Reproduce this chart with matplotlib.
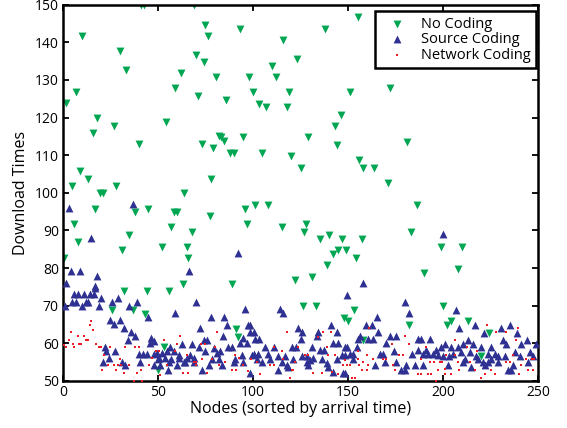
import matplotlib
matplotlib.use("Agg")
import matplotlib.pyplot as plt

# ---------------- data ----------------
no_coding_x = [41, 42.5, 68.8, 74.9, 76.1, 9.8, 29.9, 70, 74, 33, 62, 80.7, 7, 59, 71, 1.8, 18, 54, 27, 15.9,
               82, 39.9, 73.1, 78.9, 8.9, 13, 77.8, 4.9, 28, 19.5, 21, 63.9,
               155, 92.9, 137.9, 116, 123, 110, 98, 112.2, 100.1, 119, 151.2, 85.9, 102.9, 107.1, 118, 146.1,
               143, 83, 85, 95, 129.1, 144, 88, 90.1, 105, 120, 125.1, 155.9, 158,
               172, 181.1, 163.8, 171.1,
               17.1, 38, 45, 58.3, 60, 77.2, 5.9, 57, 68, 34.8, 8, 30.9, 52.1, 65.1, 66, 0.7, 63, 32, 44.1, 56,
               25.9, 37.1, 43, 53, 50,
               95.9, 101.1, 108.1, 97.1, 115, 128.1, 127, 135.1, 140, 147, 157.1, 141.9, 144.9, 149.1, 154,
               139.1, 131.1, 122.1, 88.9, 126.1, 133, 152.9, 148, 150.1, 91, 92,
               186.2, 183, 199.1, 210.1, 190.2, 208, 200.2, 182, 204, 202, 213.1, 224.1, 158, 219.8]
no_coding_y = [150, 150, 150, 144.7, 141.8, 141.8, 137.8, 136.7, 134.8, 132.7, 131.8, 130.8, 126.8, 127.8, 125.8,
               123.9, 119.9, 118.8, 117.8, 115.9, 115, 112.9, 112.9, 111.9, 105.9, 103.8, 103.8, 101.9, 101.9,
               99.9, 99.9, 99.9,
               146.7, 143.6, 143.6, 140.7, 135.6, 133.8, 130.7, 130.7, 126.8, 126.8, 126.8, 124.7, 123.7, 122.7,
               122.7, 120.7, 117.8, 114.8, 113.8, 114.8, 114.8, 112.8, 110.7, 110.7, 110.7, 109.8, 106.7, 108.8,
               106.7,
               127.8, 113.6, 106.7, 102.7,
               95.7, 94.9, 95.7, 94.9, 94.9, 93.9, 91.8, 90.8, 89.7, 88.8, 86.8, 84.8, 85.7, 85.7, 82.6, 82.8,
               75.8, 73.9, 73.9, 73.9, 68.9, 68.9, 67.7, 58.9, 52.9,
               95.7, 96.8, 96.8, 91.8, 90.8, 91.8, 89.7, 87.8, 88.8, 87.8, 87.8, 83.8, 84.8, 84.8, 82.6,
               80.7, 77.7, 76.8, 75.8, 69.8, 69.8, 68.9, 66.8, 65.8, 63.8, 61.8,
               96.8, 89.7, 85.7, 85.7, 78.8, 79.8, 69.8, 64.9, 65.8, 64.9, 65.8, 62.8, 60.9, 56.7]

source_x = [3.1, 36.9, 14.9, 4, 8.9, 18, 66.1, 1.7, 16.8, 92, 158, 200,
            17.1, 5.8, 8, 11, 14.5, 16.3, 4.9, 7, 11.9, 13.3, 1, 10.1, 18.9, 19.8, 25.9, 29, 35, 39, 44.8,
            25, 29.9, 27.1, 32, 36, 37.8, 34.1, 46.5, 46, 22, 22.9, 27.6, 24.1, 21.2, 31.1, 32.9, 39.9, 42,
            44.3, 48.1, 40.8, 47.8, 49.9,
            70, 59.1, 95.9, 78, 85, 86.3, 97.3, 72.3, 84.2, 98.5, 94.7, 74, 75.8, 92.9, 96.8, 62.6, 67.9,
            71.4, 56.5, 47.8, 87.1, 89.2, 79.3, 54.8, 58.3, 74.9, 82.8, 49.5, 52.1, 60.9, 67, 81, 94.1, 99.4,
            50.4, 53.9, 56.9, 60.9, 65.3, 68.8, 78.4, 81.9, 90.6, 55.6, 63.5, 68.8, 89.8, 51.3, 60, 64.4,
            76.6, 83.6, 55.3, 73.1, 95, 98.5,
            114.3, 116, 149.6, 98.5, 100.3, 123.9, 125.6, 134.4, 141, 144, 133.5, 101.1, 103.2, 125.3,
            106.4, 110.8, 120.4, 122.5, 130.9, 142.3, 144.9, 148.4, 135.3, 137.5, 100.3, 102.5, 107.8,
            113.4, 116.9, 125.6, 128.3, 131.8, 146.6, 102, 109, 121.3, 130, 136.1, 144, 104.6, 115.1,
            117.8, 118.6, 128.3, 129.1, 138.8, 139.3, 113, 142.3, 147.2,
            179.9, 182, 165, 159.4, 162.4, 165.9, 156.2, 172, 175.1, 155.4, 160.6, 163.3, 186.9, 188.6,
            193.3, 169.9, 154.5, 149.2, 199.1, 186.9, 191.2, 196.5, 174.1, 151, 152.4, 166.7, 168.5,
            183.4, 189.5, 192.1, 194.7, 197.4, 148.4, 152.8, 175.5, 169.4, 180.7, 185.1, 189.5, 164.1,
            178.1, 179.9, 148.4,
            207, 217, 208.2, 221.4, 230.3, 235, 239, 213.2, 210.5, 215.8, 231.5, 244.3, 249, 240.8,
            233.3, 201.2, 204.4, 207.9, 220.1, 225.4, 205.3, 209.3, 214, 223.6, 227.1, 237.6, 245.5,
            217.5, 240.3, 247.3, 211.4, 218.4, 228.9, 232.4, 225.4, 200, 203, 221, 223.6, 228.9, 210.5,
            202.7, 214.9, 221.9, 236.8, 234.2, 235.5, 244.6]
source_y = [95.9, 97, 88, 79.1, 79.1, 78, 79.1, 76, 75.1, 84, 76, 89,
            74.8, 73, 73, 73, 73, 73, 71, 71, 71, 71, 69.9, 69.9, 69.9, 72, 71.1, 72, 70, 71.1, 67.1,
            66.2, 66.2, 65.1, 64, 62.9, 62, 60.9, 61.3, 60, 59.1, 58, 58, 56.2, 55.1, 55.1, 54.1, 57.1, 57.1,
            57.1, 57.1, 55.1, 54.2, 55.9,
            71.1, 68, 69.1, 66.9, 66.9, 64.9, 64.9, 64, 62, 63.1, 61.3, 60.9, 60.9, 60, 60, 59.7, 59.7,
            59.1, 58.9, 60.6, 58.9, 58.9, 58.7, 58, 58, 58, 58, 57.4, 57.4, 56.9, 56.9, 57.5, 56.9, 56.9,
            56, 56, 55.8, 56, 56, 56, 55.8, 55.8, 55.8, 55.1, 55.1, 55, 55, 54.1, 54.1, 55,
            54.1, 54.1, 52.9, 52.9, 55.1, 52,
            69.1, 68, 72.9, 64.9, 63.1, 64, 63.1, 63.1, 64.9, 63.1, 62, 61.2, 61.2, 61.2,
            59.1, 59.1, 59.1, 59.1, 59.1, 60, 60, 59.1, 58.2, 58.2, 57.1, 57.1, 57.1,
            56.7, 56.7, 56.5, 56.5, 56.2, 56.9, 55.9, 55.9, 55.9, 55.6, 55.9, 55.9, 55, 55,
            54.2, 53.8, 55, 54.1, 54.7, 53.8, 52.9, 52.3, 52,
            71.1, 68, 66.9, 64.9, 64.9, 63.1, 62, 62, 62, 61.2, 61.2, 61.2, 61.2, 61.2,
            61.2, 60, 59.1, 59.1, 59.1, 58.2, 58.2, 58.2, 58, 57.1, 57.1, 57.1, 57.1,
            57.1, 57.1, 57.1, 57.1, 56.9, 56.9, 55.9, 55, 55, 54.2, 54.2, 54.1, 54.1,
            52.9, 52.9, 52,
            68.9, 64.9, 64, 62.8, 64, 64.9, 62.8, 60.9, 59.7, 59.7, 60.9, 60.9, 59.7, 59.7,
            59.7, 59.7, 58.9, 58.9, 58.9, 58.9, 57.1, 57.6, 57.6, 57.1, 57.1, 57.6, 57.6,
            56.7, 56.7, 56.7, 55.9, 55.9, 56.7, 56.7, 55.9, 56.7, 56.7, 55, 55, 55, 55,
            54.1, 53.8, 54.2, 54.1, 52.9, 52.9, 55]

network_x = [14.9, 14.2, 15.9, 4, 8.1, 11, 11.9, 13.3, 3.1, 0.5, 1.4, 5.2, 8.7, 9.6, 5.8, 17.5, 18.9, 19.8,
             25, 32.9, 38.1, 39.9, 21.5, 29.9, 23.8, 26.8, 29.1, 30.8, 35, 20.6, 28, 32, 39.2, 41.3, 45.1,
             46.9, 49, 37.3, 41.6,
             81, 53, 61.8, 60, 72.6, 74.9, 80.1, 50.4, 58.8, 65.3, 73.1, 78.4, 68.8, 70, 54.8, 70.2, 81.9,
             85.4, 95, 88.9, 91.2, 51.3, 63.2, 66, 75.8, 90.6, 92.4,
             117.8, 137, 134.4, 141, 123.9, 138.8, 115.1, 111.3, 99, 116, 127.4, 129.1, 139.6, 143.1, 102,
             122.1, 109, 110.8, 120.4, 121.3, 131.8, 136.1, 141.4, 144.5, 103.8, 119.5, 97.6, 147.5, 148.4,
             161.1, 179.9, 182.1, 172.9, 190.9, 155.4, 159.8, 176.9, 179, 168.5, 170.2, 163.2, 155.4,
             188.6, 158, 193, 195.1, 198.2, 149.2, 151, 155.9, 160.6, 173.7, 174.6, 157.1, 159.8, 197.4,
             186.9, 188.6, 192.1, 193.9, 151.9, 153.6, 196.1,
             223.3, 239.4, 228, 233.3, 206.1, 238.5, 212.8, 201.8, 206.1, 218.1, 236.8, 243.8, 246.7,
             248.1, 199.2, 207.9, 214, 233.3, 235, 240.8, 200.9, 216.6, 225.4, 244.6, 247.3, 200.9, 204,
             221.9, 227.5, 239.7, 220.1, 208.2]
network_y = [66, 64.9, 63.6, 62.9, 62, 62, 60.9, 60.9, 60.9, 59.6, 58.9, 59.8, 59.8, 59.8, 58.9, 59.8, 58.9,
             58.9, 58.9, 58.9, 58.9, 58.9, 56.9, 55.9, 54.1, 54.1, 54.1, 54.1, 54.1, 52.9, 52.9, 52, 52,
             52.9, 54.1, 56, 58, 50, 50,
             63, 60.9, 62, 59.8, 59.8, 59.8, 58.9, 58, 58, 56.9, 55.9, 55.9, 55, 55, 54.1, 54.1, 54.1,
             55, 54.1, 52.9, 52.9, 51.6, 52, 52, 52, 56.9, 56,
             63, 63, 61.8, 63, 59.1, 59.1, 58, 58.9, 55.9, 55.9, 56.9, 56.9, 56.9, 56.9, 55,
             55, 54.1, 54.1, 52.9, 52.9, 52, 52, 52.3, 51.8, 51.8, 50.9, 52.6, 54.2, 55.6,
             64, 62, 59.8, 59.8, 58.9, 58, 56.9, 56.9, 56.9, 55.9, 55.9, 55.9, 55.9,
             55.9, 55, 55, 55, 55, 54.1, 54.1, 54.1, 54.1, 54.1, 52.9, 52.9, 52.9, 52.9,
             51.8, 51.8, 51.8, 51.8, 50.9, 50.9, 50,
             64.9, 64, 63.1, 63.1, 60.9, 60.9, 58.9, 56.9, 56.9, 58, 56.9, 55.9, 55.9,
             55.9, 55, 55, 55, 55, 55, 54.1, 53.2, 52.9, 52.9, 52.9, 52.9, 51.8, 51.8,
             51.8, 51.8, 51.8, 50.9, 52.9]

x_ticks = [0, 50, 100, 150, 200, 250]
y_ticks = [50, 60, 70, 80, 90, 100, 110, 120, 130, 140, 150]
series_labels = ["No Coding", "Source Coding", "Network Coding"]

# ---------------- plot ----------------
plt.rcParams['font.family'] = ['Open Sans', 'DejaVu Sans']

fig = plt.figure(figsize=(5.67, 4.28), dpi=100)
ax = fig.add_axes([0.111, 0.110, 0.838, 0.879])

green = '#00a651'
blue = '#2e3192'
red = '#ed1c24'

ax.scatter(no_coding_x, no_coding_y, marker='v', s=32, color=green, linewidths=0,
           label=series_labels[0], zorder=2)
ax.scatter(source_x, source_y, marker='^', s=32, color=blue, linewidths=0,
           label=series_labels[1], zorder=3)
ax.scatter(network_x, network_y, marker='s', s=3.0, color=red, linewidths=0,
           label=series_labels[2], zorder=4)

ax.set_xlim(0, 250)
ax.set_ylim(50, 150)
ax.set_xticks(x_ticks)
ax.set_yticks(y_ticks)
ax.tick_params(direction='in', length=4, width=1.3, top=True, right=True,
               labelsize=10, pad=3)
for sp in ax.spines.values():
    sp.set_linewidth(1.8)

ax.set_xlabel("Nodes (sorted by arrival time)", fontsize=11.5, labelpad=1)
ax.set_ylabel("Download Times", fontsize=11.5, labelpad=4)

leg = ax.legend(loc='upper right', bbox_to_anchor=(0.996, 0.982), fontsize=10.5,
                frameon=True, fancybox=False, edgecolor='black', framealpha=1,
                borderaxespad=0, handletextpad=0.6, labelspacing=0.05, borderpad=0.35,
                handlelength=2.2)
leg.get_frame().set_linewidth(1.8)
leg.legend_handles[2].set_sizes([4])

fig.savefig("out.png", dpi=100)
